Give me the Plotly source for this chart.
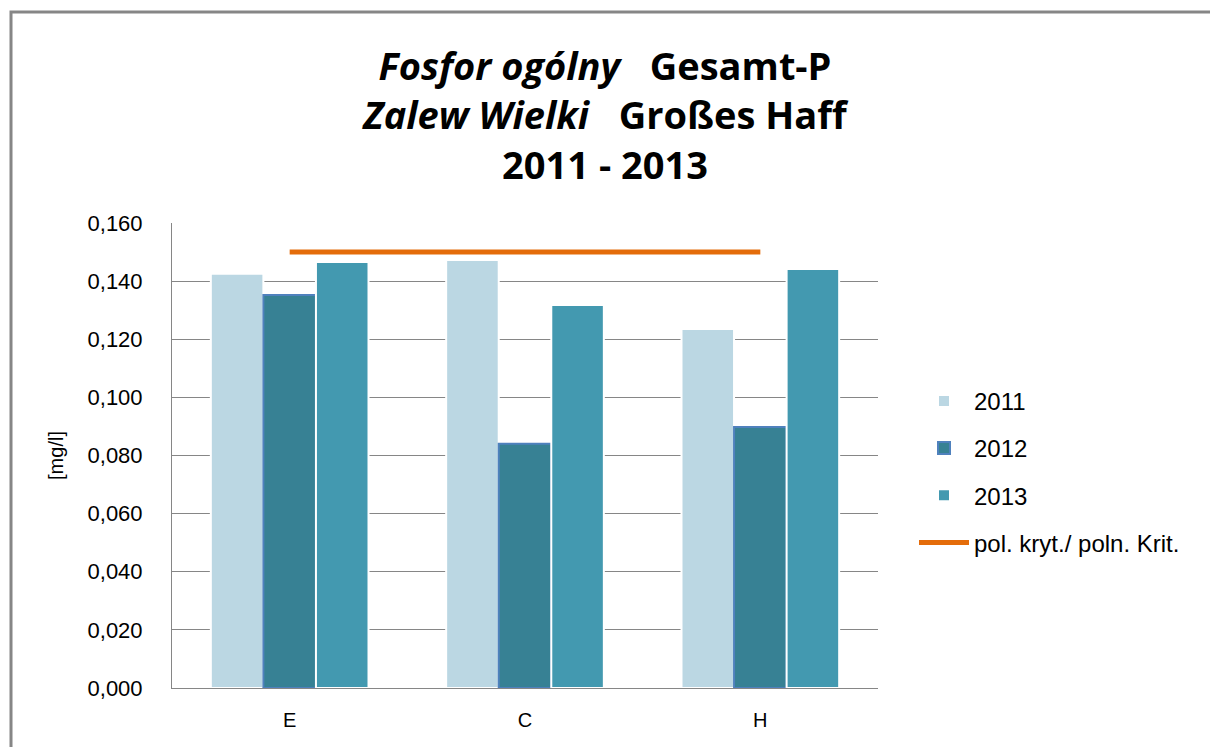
import plotly.graph_objects as go

categories = ["E", "C", "H"]
v2011 = [0.1425, 0.1473, 0.1235]
v2012 = [0.1352, 0.0840, 0.0898]
v2013 = [0.1466, 0.1318, 0.1442]
crit = [0.150, 0.150, 0.150]
series_names = ["2011", "2012", "2013", "pol. kryt./ poln. Krit."]

L, R, T, B = 172, 332, 223, 59
W, H = 1210, 747
pw, ph = W - L - R, H - T - B

fig = go.Figure()
fig.add_bar(x=categories, y=v2011, name=series_names[0], legendgroup="a",
            marker=dict(color="#BBD7E3", line=dict(color="white", width=2)))
fig.add_bar(x=categories, y=v2012, name=series_names[1], legendgroup="b",
            marker=dict(color="#378194", line=dict(color="#4F81BD", width=2)))
fig.add_bar(x=categories, y=v2013, name=series_names[2], legendgroup="c",
            marker=dict(color="#4399B0", line=dict(color="white", width=2)))
fig.add_scatter(x=categories, y=crit, name=series_names[3], mode="lines", legendgroup="d",
                line=dict(color="#E46C0A", width=5))

font = "Liberation Sans, Arial"
fig.update_layout(
    width=W, height=H,
    margin=dict(l=L, r=R, t=T, b=B),
    paper_bgcolor="white", plot_bgcolor="white",
    separators=",.",
    barmode="group", bargap=0.33, bargroupgap=0.0,
    font=dict(family=font, color="black", size=20),
    title=dict(
        text="<b><i>Fosfor ogólny</i>   Gesamt-P<br><i>Zalew Wielki</i>   Großes Haff<br>2011 - 2013</b>",
        x=0.5, xanchor="center", xref="container", y=1 - 80 / H, yanchor="top", yref="container",
        font=dict(family="Open Sans, Liberation Sans", size=38, color="black"),
    ),
    legend=dict(x=1.051, y=0.665, xanchor="left", yanchor="top",
                font=dict(size=24, family=font), tracegroupgap=13,
                itemwidth=50, bgcolor="rgba(0,0,0,0)"),
    showlegend=True,
)
fig.update_yaxes(range=[0, 0.16], dtick=0.02, tickformat=".3f",
                 showgrid=True, gridcolor="#868686", gridwidth=1,
                 showline=True, linecolor="#868686", linewidth=1,
                 ticks="", ticklabelstandoff=24, tickfont=dict(size=22, family=font),
                 title=dict(text="[mg/l]", font=dict(size=20, family=font), standoff=18),
                 zeroline=False)
fig.update_xaxes(showline=True, linecolor="#868686", linewidth=1,
                 ticks="", ticklabelstandoff=14, tickfont=dict(size=20, family=font),
                 showgrid=False)

# outer frame
fig.add_shape(type="rect", xref="paper", yref="paper",
              x0=(11 - L) / pw, x1=(1230 - L) / pw,
              y0=(H - B - 770) / ph, y1=(H - B - 12) / ph,
              line=dict(color="#868686", width=3), fillcolor="rgba(0,0,0,0)", layer="below")

fig.write_html("out.html", config={"displayModeBar": False},
               post_script="document.body.style.margin='0';")
